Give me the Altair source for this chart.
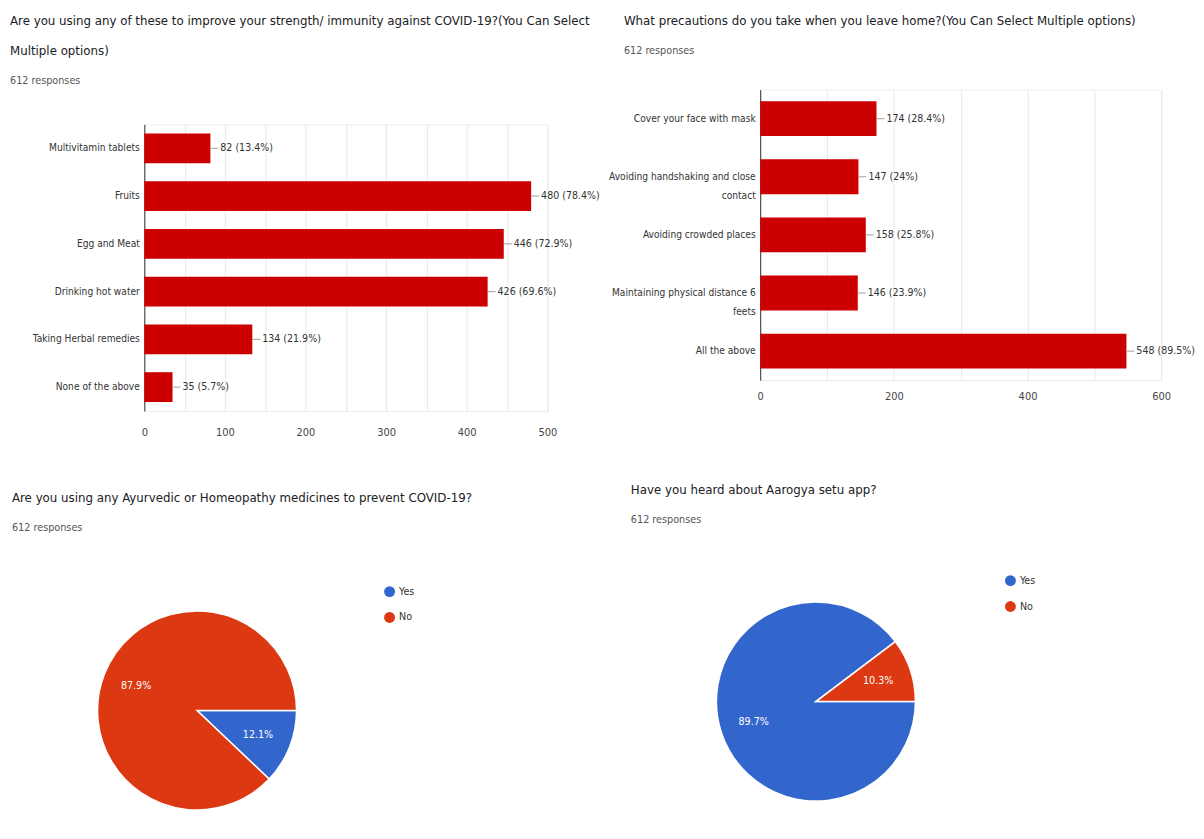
import math
import altair as alt
import pandas as pd

FONT = "'Liberation Sans Narrow', 'Arial Narrow', 'DejaVu Sans Condensed', Roboto, sans-serif"

# ---- Chart 1: strength / immunity ----
q1_title = ["Are you using any of these to improve your strength/ immunity against COVID-19?(You Can Select",
            "Multiple options)"]
q1_cats = ["Multivitamin tablets", "Fruits", "Egg and Meat", "Drinking hot water",
           "Taking Herbal remedies", "None of the above"]
q1_counts = [82, 480, 446, 426, 134, 35]
q1_pcts = ["13.4%", "78.4%", "72.9%", "69.6%", "21.9%", "5.7%"]

# ---- Chart 2: precautions ----
q2_title = ["What precautions do you take when you leave home?(You Can Select Multiple options)"]
q2_cats = ["Cover your face with mask", "Avoiding handshaking and close contact",
           "Avoiding crowded places", "Maintaining physical distance 6 feets", "All the above"]
q2_counts = [174, 147, 158, 146, 548]
q2_pcts = ["28.4%", "24%", "25.8%", "23.9%", "89.5%"]
q2_wrap = {
    "Avoiding handshaking and close contact": ["Avoiding handshaking and close", "contact"],
    "Maintaining physical distance 6 feets": ["Maintaining physical distance 6", "feets"],
}

# ---- Chart 3: Ayurvedic / Homeopathy ----
q3_title = ["Are you using any Ayurvedic or Homeopathy medicines to prevent COVID-19?"]
q3_answers = ["Yes", "No"]
q3_pcts = [12.1, 87.9]

# ---- Chart 4: Aarogya setu ----
q4_title = ["Have you heard about Aarogya setu app?"]
q4_answers = ["Yes", "No"]
q4_pcts = [89.7, 10.3]

responses = "612 responses"
BAR_RED = "#cc0000"
PIE_COLORS = ["#3366cc", "#dc3912"]
TITLE_SIZE = 13.2
SUB_SIZE = 10.8
LABEL_SIZE = 10.2
VALUE_SIZE = 10.6


def wrap_expr(wrap):
    expr = "datum.label"
    for k, v in wrap.items():
        arr = "[" + ", ".join("'" + s + "'" for s in v) + "]"
        expr = f"datum.label == '{k}' ? {arr} : ({expr})"
    return expr


def make_title(text, dx, offset, line_height=30, sub_pad=17):
    return alt.TitleParams(text=text, subtitle=responses, anchor="start", frame="group",
                           dx=dx, fontSize=TITLE_SIZE, fontWeight="normal", color="#202124",
                           lineHeight=line_height, subtitleFontSize=SUB_SIZE,
                           subtitleColor="#555555", subtitlePadding=sub_pad, offset=offset)


def bar_panel(cats, counts, pcts, dmax, grid_step, label_step, width, height, bar_size,
              label_pad, title=None, wrap=None):
    df = pd.DataFrame({"cat": cats, "count": counts, "pct": pcts})
    df["label"] = df["count"].astype(str) + " (" + df["pct"] + ")"
    yaxis = alt.Axis(title=None, ticks=False, grid=False, domain=True, domainColor="#333333",
                     labelPadding=5, labelFontSize=LABEL_SIZE, labelColor="#333333", labelLimit=0,
                     labelExpr=wrap_expr(wrap or {}), labelLineHeight=19)
    xaxis = alt.Axis(title=None, ticks=False, domain=False, grid=True, gridColor="#e8e8e8",
                     values=list(range(0, dmax + 1, grid_step)), labelFlush=False,
                     labelExpr=f"datum.value % {label_step} == 0 ? datum.label : ''",
                     labelPadding=label_pad, labelFontSize=LABEL_SIZE + 0.8, labelColor="#444444")
    base = alt.Chart(df).encode(y=alt.Y("cat:N", sort=cats, axis=yaxis))
    bars = base.mark_bar(color=BAR_RED, size=bar_size).encode(
        x=alt.X("count:Q", scale=alt.Scale(domain=[0, dmax], nice=False), axis=xaxis))
    rule = base.mark_rule(color="#9e9e9e", strokeWidth=1, x2Offset=8).encode(
        x="count:Q", x2="count:Q")
    text = base.mark_text(align="left", dx=10, fontSize=VALUE_SIZE, color="#333333").encode(
        x="count:Q", text="label:N")
    layered = alt.layer(bars, rule, text).properties(width=width, height=height)
    if title is not None:
        layered = layered.properties(title=title)
    return layered


def pie_panel(answers, pcts, title, width, legend_x, legend_y):
    df = pd.DataFrame({"ans": answers, "pct": pcts, "idx": list(range(len(answers)))})
    df["lbl"] = df["pct"].map(lambda v: f"{v}%")
    base = alt.Chart(df).encode(
        theta=alt.Theta("pct:Q", stack=True,
                        scale=alt.Scale(range=[math.pi / 2, math.pi / 2 + 2 * math.pi])),
        order=alt.Order("idx:Q"),
    )
    arc = base.mark_arc(outerRadius=100, stroke="white", strokeWidth=1.5).encode(
        color=alt.Color("ans:N", scale=alt.Scale(domain=answers, range=PIE_COLORS),
                        legend=alt.Legend(title=None, orient="none", legendX=legend_x,
                                          legendY=legend_y, padding=0,
                                          symbolType="circle", symbolSize=120, symbolStrokeWidth=0,
                                          labelFontSize=LABEL_SIZE + 0.5, labelColor="#333333",
                                          rowPadding=14)))
    text = base.mark_text(radius=66, fontSize=LABEL_SIZE + 0.5).encode(
        text="lbl:N", color=alt.value("#ffffff"))
    return alt.layer(arc, text).properties(width=width, height=200, title=title)


# Spacer carrying the two-line title of the first chart (keeps its plot lower than the right one)
spacer = alt.Chart(pd.DataFrame({"v": [0]})).mark_point(size=0, opacity=0).encode(
    x=alt.X("v:Q", axis=None), y=alt.Y("v:Q", axis=None)
).properties(width=405, height=34, title=make_title(q1_title, -135, 3),
             view=alt.ViewBackground(stroke=None))

c1 = bar_panel(q1_cats, q1_counts, q1_pcts, 500, 50, 100, 405, 288, 30, 16)
c2 = bar_panel(q2_cats, q2_counts, q2_pcts, 600, 100, 200, 403, 292, 35, 10,
               title=make_title(q2_title, -137, 33), wrap=q2_wrap)
c3 = pie_panel(q3_answers, q3_pcts, make_title(q3_title, -133, 53, line_height=16), 106, 241, -25)
c4 = pie_panel(q4_answers, q4_pcts, make_title(q4_title, -130, 50, line_height=16), 112, 246, -27)

res = dict(x="independent", y="independent", color="independent", theta="independent")

top_left = alt.vconcat(spacer, c1, spacing=0).resolve_scale(**res)
left_col = alt.vconcat(top_left, c3, spacing=52).resolve_scale(**res)
right_col = alt.vconcat(c2, c4, spacing=81).resolve_scale(**res)

chart = alt.concat(left_col, right_col, columns=2, align="none", spacing=6).resolve_scale(
    **res).resolve_legend(color="independent").properties(
    padding={"left": 2, "top": 3, "right": 0, "bottom": 0}, background="white"
).configure(font=FONT).configure_view(stroke="#ececec")

chart.save("out.html", embed_options={"renderer": "svg", "actions": False})
